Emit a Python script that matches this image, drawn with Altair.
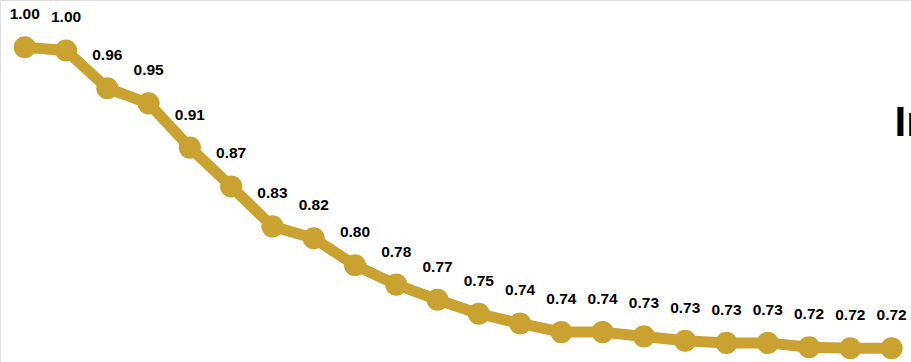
import altair as alt
import pandas as pd

# Retention-style index by step (1 = baseline)
steps = list(range(1, 23))
values = [1.000, 0.997, 0.962, 0.948, 0.907, 0.871, 0.834, 0.823, 0.798, 0.780,
          0.766, 0.753, 0.744, 0.736, 0.736, 0.732, 0.728, 0.726, 0.726, 0.722,
          0.721, 0.721]

GOLD = "#C9A231"
FONT = "Liberation Sans"

df = pd.DataFrame({"step": steps, "value": values})

x = alt.X("step:Q", axis=None, scale=alt.Scale(domain=[0.4, 22.47], nice=False, zero=False))
y = alt.Y("value:Q", axis=None, scale=alt.Scale(domain=[0.7083, 1.0438], nice=False, zero=False))

base = alt.Chart(df).encode(x=x, y=y)

line = base.mark_line(color=GOLD, strokeWidth=11, strokeJoin="round", strokeCap="round")
dots = base.mark_circle(color=GOLD, size=490, opacity=1)
labels = base.mark_text(
    font=FONT, fontSize=15.5, fontWeight="bold", color="#000000",
    dy=-33, align="center", baseline="middle"
).encode(text=alt.Text("value:Q", format=".2f"))

heading = alt.Chart(pd.DataFrame({"t": ["Index"]})).mark_text(
    font=FONT, fontSize=42, fontWeight="bold", color="#000000",
    align="left", baseline="alphabetic"
).encode(x=alt.value(894.5), y=alt.value(136), text="t:N")

chart = (line + dots + labels + heading).properties(
    width=911, height=362, padding=0, autosize=alt.AutoSizeParams(type="none")
).configure_view(stroke=None).configure(background="#ffffff")

chart.save("out.html", embed_options={"renderer": "svg", "actions": False})
